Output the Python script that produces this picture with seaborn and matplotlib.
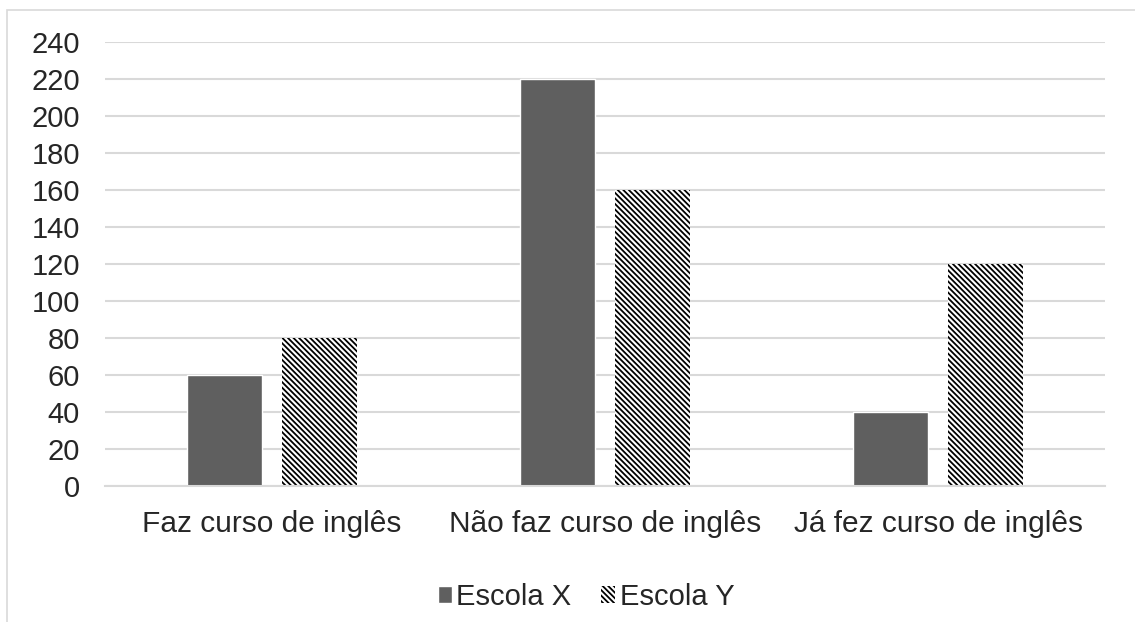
import matplotlib
matplotlib.use("Agg")
import matplotlib.pyplot as plt
import matplotlib.patches as mpatches
import seaborn as sns
import pandas as pd

# data
categorias = ["Faz curso de inglês", "Não faz curso de inglês", "Já fez curso de inglês"]
escola_x = [60, 220, 40]
escola_y = [80, 160, 120]
series = ["Escola X", "Escola Y"]
y_ticks = list(range(0, 241, 20))

df = pd.DataFrame({
    "categoria": categorias * 2,
    "valor": escola_x + escola_y,
    "escola": [series[0]] * 3 + [series[1]] * 3,
})

sns.set_style("white")
plt.rcParams["font.family"] = ["Liberation Sans", "DejaVu Sans"]
plt.rcParams["hatch.linewidth"] = 1.3
plt.rcParams["hatch.color"] = "black"

HATCH = "\\" * 6

fig = plt.figure(figsize=(11.35, 6.22), dpi=100)
ax = fig.add_axes([105 / 1135, 1 - 486 / 622, 1000 / 1135, 444 / 622])

sns.barplot(data=df, x="categoria", y="valor", hue="escola", order=categorias,
            hue_order=series, palette=["#5f5f5f", "white"], width=0.57, gap=0.2105,
            saturation=1, ax=ax, legend=False)

for bar in ax.patches[3:6]:
    bar.set_hatch(HATCH)
    bar.set_edgecolor("black")
    bar.set_linewidth(0)

ax.set_ylim(0, 240)
ax.set_xlim(-0.5, 2.5)
ax.set_yticks(y_ticks)
ax.yaxis.grid(True, color="#d9d9d9", linewidth=1.5)
ax.set_axisbelow(True)
ax.tick_params(axis="y", labelsize=21, length=0, pad=18)
ax.tick_params(axis="x", labelsize=21.5, length=0, pad=17)
ax.set_xlabel("")
ax.set_ylabel("")
for side in ["left", "right", "top"]:
    ax.spines[side].set_visible(False)
ax.spines["bottom"].set_color("#d9d9d9")
ax.spines["bottom"].set_linewidth(1.5)

handles = [
    mpatches.Patch(facecolor="#5f5f5f", label="Escola X"),
    mpatches.Patch(facecolor="white", edgecolor="black", hatch=HATCH, linewidth=0, label="Escola Y"),
]
fig.legend(handles=handles, loc="center", bbox_to_anchor=(586 / 1135, 1 - 597 / 622),
           ncol=2, frameon=False, fontsize=21, handlelength=0.5, handleheight=0.5,
           handletextpad=0.15, columnspacing=1.0)

# outer border of the chart area
fig.add_artist(mpatches.Rectangle((7 / 1135, -0.1), 1.2, 1 - 10 / 622 + 0.1,
                                  transform=fig.transFigure, fill=False,
                                  edgecolor="#d9d9d9", linewidth=1.2))

fig.savefig("out.png", dpi=100)
